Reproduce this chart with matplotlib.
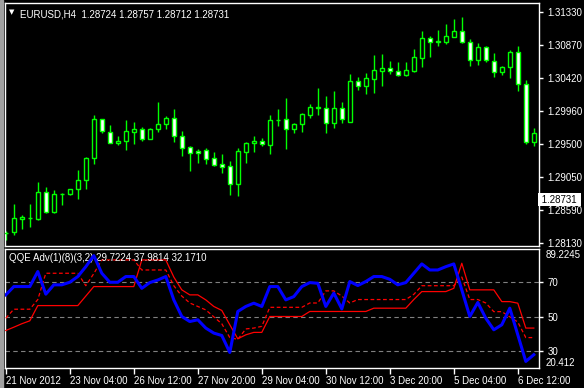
import numpy as np
import matplotlib
matplotlib.use('Agg')
import matplotlib.pyplot as plt

plt.rcParams['font.family'] = ['Liberation Sans', 'DejaVu Sans']

# EURUSD H4 candles, 21 Nov 2012 .. 6 Dec 2012
opens = [1.28269, 1.28278, 1.28467, 1.28470, 1.28467, 1.28832, 1.28564, 1.28810, 1.28813, 1.28874,
         1.28998, 1.29303, 1.29843, 1.29663, 1.29511, 1.29539, 1.29671, 1.29705, 1.29575, 1.29705,
         1.29774, 1.29857, 1.29608, 1.29455, 1.29404, 1.29418, 1.29307, 1.29220, 1.29192, 1.28943,
         1.29394, 1.29511, 1.29543, 1.29491, 1.29829, 1.29847, 1.29705, 1.29774, 1.29907, 1.30000,
         1.29996, 1.29796, 1.29996, 1.29810, 1.30374, 1.30309, 1.30406, 1.30516, 1.30550, 1.30508,
         1.30461, 1.30516, 1.30696, 1.30965, 1.30914, 1.30918, 1.30987, 1.31062, 1.30910, 1.30660,
         1.30840, 1.30647, 1.30494, 1.30563, 1.30771, 1.30328, 1.29525]
highs = [1.28296, 1.28670, 1.28514, 1.28670, 1.28975, 1.28906, 1.28864, 1.28823, 1.28874, 1.29141,
         1.29325, 1.29899, 1.29843, 1.29764, 1.29612, 1.29834, 1.29806, 1.29737, 1.29719, 1.30087,
         1.29889, 1.29986, 1.29681, 1.29473, 1.29432, 1.29446, 1.29390, 1.29363, 1.29266, 1.29446,
         1.29533, 1.29612, 1.29584, 1.29903, 1.29986, 1.30138, 1.29792, 1.29931, 1.30051, 1.30277,
         1.30166, 1.30235, 1.30083, 1.30471, 1.30429, 1.30485, 1.30734, 1.30748, 1.30651, 1.30637,
         1.30637, 1.30817, 1.31066, 1.30993, 1.31080, 1.31163, 1.31232, 1.31256, 1.30955, 1.30896,
         1.30854, 1.30762, 1.30577, 1.30799, 1.30854, 1.30383, 1.29719]
lows = [1.28165, 1.28241, 1.28328, 1.28356, 1.28449, 1.28552, 1.28550, 1.28660, 1.28799, 1.28735,
        1.28874, 1.29231, 1.29658, 1.29511, 1.29487, 1.29418, 1.29501, 1.29543, 1.29575, 1.29671,
        1.29713, 1.29533, 1.29339, 1.29131, 1.29242, 1.29228, 1.29201, 1.29104, 1.28795, 1.28785,
        1.29242, 1.29394, 1.29478, 1.29363, 1.29750, 1.29436, 1.29658, 1.29671, 1.29865, 1.29903,
        1.29658, 1.29727, 1.29796, 1.29810, 1.30253, 1.30190, 1.30212, 1.30304, 1.30475, 1.30443,
        1.30443, 1.30503, 1.30568, 1.30706, 1.30858, 1.30886, 1.30987, 1.30896, 1.30586, 1.30600,
        1.30633, 1.30433, 1.30461, 1.30411, 1.30239, 1.29497, 1.29478]
closes = [1.28275, 1.28476, 1.28486, 1.28474, 1.28832, 1.28564, 1.28805, 1.28815, 1.28874, 1.28998,
          1.29303, 1.29843, 1.29685, 1.29511, 1.29543, 1.29681, 1.29705, 1.29575, 1.29705, 1.29774,
          1.29857, 1.29608, 1.29442, 1.29372, 1.29372, 1.29298, 1.29214, 1.29187, 1.28943, 1.29404,
          1.29515, 1.29543, 1.29497, 1.29834, 1.29838, 1.29705, 1.29774, 1.29912, 1.30009, 1.30008,
          1.29796, 1.29996, 1.29843, 1.30369, 1.30309, 1.30415, 1.30522, 1.30550, 1.30516, 1.30461,
          1.30522, 1.30702, 1.30965, 1.30910, 1.30922, 1.30993, 1.31062, 1.30910, 1.30660, 1.30840,
          1.30660, 1.30494, 1.30563, 1.30771, 1.30328, 1.29525, 1.29649]

price_ticks = [1.28130, 1.28590, 1.29050, 1.29500, 1.29960, 1.30420, 1.30870, 1.31330]
last_price = 1.28731

# QQE Adv(1)(8)(3,2) buffers
qqe_rsi = [62.7, 67.5, 67.5, 67.5, 76.2, 63.1, 68.5, 68.5, 70.0, 73.3,
           79.0, 85.4, 75.2, 70.0, 70.0, 73.3, 73.3, 66.5, 69.8, 71.3,
           73.3, 59.8, 50.2, 47.3, 48.3, 43.5, 40.6, 39.2, 29.4, 53.1,
           56.0, 57.9, 56.0, 67.5, 67.5, 59.8, 61.7, 67.5, 69.8, 69.4,
           56.0, 63.7, 54.6, 70.4, 68.1, 70.4, 73.3, 73.3, 71.7, 68.5,
           69.8, 75.2, 80.6, 77.1, 77.1, 79.0, 80.6, 65.6, 50.2, 58.3,
           49.2, 42.5, 45.4, 55.0, 39.6, 24.2, 28.1]
qqe_slow = [42.1, 44.0, 46.0, 47.7, 56.5, 56.5, 56.5, 56.5, 56.5, 56.5,
            62.0, 67.5, 67.5, 67.5, 67.5, 67.5, 67.5, 82.9, 82.9, 82.9,
            82.9, 73.0, 65.6, 62.7, 62.7, 59.8, 56.0, 53.7, 45.4, 37.3,
            39.6, 41.0, 41.0, 50.2, 50.2, 50.2, 50.2, 50.2, 53.1, 53.1,
            53.1, 53.1, 53.1, 53.1, 53.1, 53.1, 55.0, 55.0, 55.0, 55.0,
            55.0, 60.0, 64.6, 64.6, 64.6, 64.6, 66.5, 81.0, 65.6, 65.6,
            65.6, 65.6, 58.8, 58.8, 57.9, 43.5, 43.5]
qqe_fast = [49.2, 54.4, 54.4, 54.4, 60.0, 75.2, 75.2, 75.2, 75.2, 75.2,
            68.0, 75.0, 82.9, 82.9, 82.9, 82.9, 82.9, 77.1, 77.1, 77.1,
            77.1, 68.0, 62.0, 58.0, 56.0, 54.0, 50.0, 46.0, 38.0, 37.0,
            43.0, 43.5, 44.5, 55.5, 55.5, 55.5, 55.5, 55.5, 58.0, 58.0,
            65.0, 65.0, 62.0, 58.0, 60.0, 60.0, 60.0, 60.0, 60.0, 60.0,
            60.0, 63.0, 68.0, 68.0, 68.0, 68.0, 68.0, 73.0, 60.0, 60.0,
            58.0, 53.0, 53.0, 50.0, 47.0, 38.0, 38.0]
qqe_levels = [30, 50, 70]
qqe_min, qqe_max = 20.412, 89.2245

time_labels = ['21 Nov 2012', '23 Nov 04:00', '26 Nov 12:00', '27 Nov 20:00', '29 Nov 04:00',
               '30 Nov 12:00', '3 Dec 20:00', '5 Dec 04:00', '6 Dec 12:00']
time_label_bars = [0, 8, 16, 24, 32, 40, 48, 56, 64]

W, H = 584, 388
fs = 7.0
fig = plt.figure(figsize=(W / 100, H / 100), dpi=100, facecolor='black')

def px_axes(x0, y0, x1, y1):
    return fig.add_axes([x0 / W, 1 - y1 / H, (x1 - x0) / W, (y1 - y0) / H])

ax1 = px_axes(5, 3, 539, 246)
ax2 = px_axes(5, 249, 539, 368)

green = '#00ff00'
x = np.arange(len(opens))
o = np.array(opens); c = np.array(closes)
bull = c >= o

ax1.vlines(x, lows, highs, color=green, lw=1, zorder=2)
bottom = np.minimum(o, c)
height = np.maximum(np.abs(c - o), 0.00003)
ax1.bar(x, height, bottom=bottom, width=0.5,
        color=np.where(bull, 'black', 'white'), edgecolor=green, lw=1, zorder=3)

xmin, xmax = -0.1, 66.65
ppx = (1.31330 - 1.28130) / 231
ax1.set_xlim(xmin, xmax)
ax1.set_ylim(1.28130 - 3 * ppx, 1.31330 + 9 * ppx)

ax2.plot(x, qqe_slow, color='red', lw=0.9, zorder=3)
ax2.plot(x, qqe_fast, color='red', lw=0.9, ls=(0, (3, 2)), zorder=3)
ax2.plot(x, qqe_rsi, color='#0000ff', lw=2.2, zorder=4)
for lv in qqe_levels:
    ax2.axhline(lv, color='#808080', lw=0.8, ls=(0, (4, 3)), zorder=1)
ax2.set_xlim(xmin, xmax)
ax2.set_ylim(qqe_min, qqe_max)

for ax in (ax1, ax2):
    ax.set_facecolor('black')
    for s in ax.spines.values():
        s.set_color('white')
        s.set_linewidth(1)
    ax.yaxis.tick_right()
    ax.tick_params(axis='y', colors='white', labelcolor='white', length=3, width=1,
                   pad=3, labelsize=fs, direction='out')
    ax.tick_params(axis='x', bottom=False, labelbottom=False)

ax1.set_yticks(price_ticks)
ax1.set_yticklabels(['%.5f' % p for p in price_ticks])
ax1.text(1.0, last_price, ' %.5f ' % last_price, transform=ax1.get_yaxis_transform(),
         ha='left', va='center', fontsize=fs, color='black',
         bbox=dict(boxstyle='square,pad=0.15', fc='white', ec='none'), clip_on=False)

ax2.set_yticks(qqe_levels)
ax2.set_yticklabels([str(v) for v in qqe_levels])
ax2.text(1.012, 0.95, '89.2245', transform=ax2.transAxes, ha='left', va='center',
         fontsize=fs, color='white')
ax2.text(1.012, 0.045, '20.412', transform=ax2.transAxes, ha='left', va='center',
         fontsize=fs, color='white')

# time axis under the indicator window
ax2.set_xticks(time_label_bars)
ax2.tick_params(axis='x', bottom=True, labelbottom=True, colors='white', length=4,
                width=1, pad=2, labelsize=fs, direction='out')
ax2.set_xticklabels(time_labels, ha='left')

ax1.text(0.008, 0.975, u'\u25bc', transform=ax1.transAxes, ha='left', va='top',
         fontsize=5, color='white', family='DejaVu Sans')
ax1.text(0.028, 0.975, 'EURUSD,H4  1.28724 1.28757 1.28712 1.28731', transform=ax1.transAxes,
         ha='left', va='top', fontsize=fs, color='white')
ax2.text(0.008, 0.965, 'QQE Adv(1)(8)(3,2) 29.7224 37.9814 32.1710', transform=ax2.transAxes,
         ha='left', va='top', fontsize=fs, color='white')

# grey window border on the left
fig.patches.append(plt.Rectangle((0, 0), 3 / W, 1, transform=fig.transFigure,
                                 color='#a0a0a0', zorder=0))

fig.savefig('out.png', dpi=100, facecolor='black')
